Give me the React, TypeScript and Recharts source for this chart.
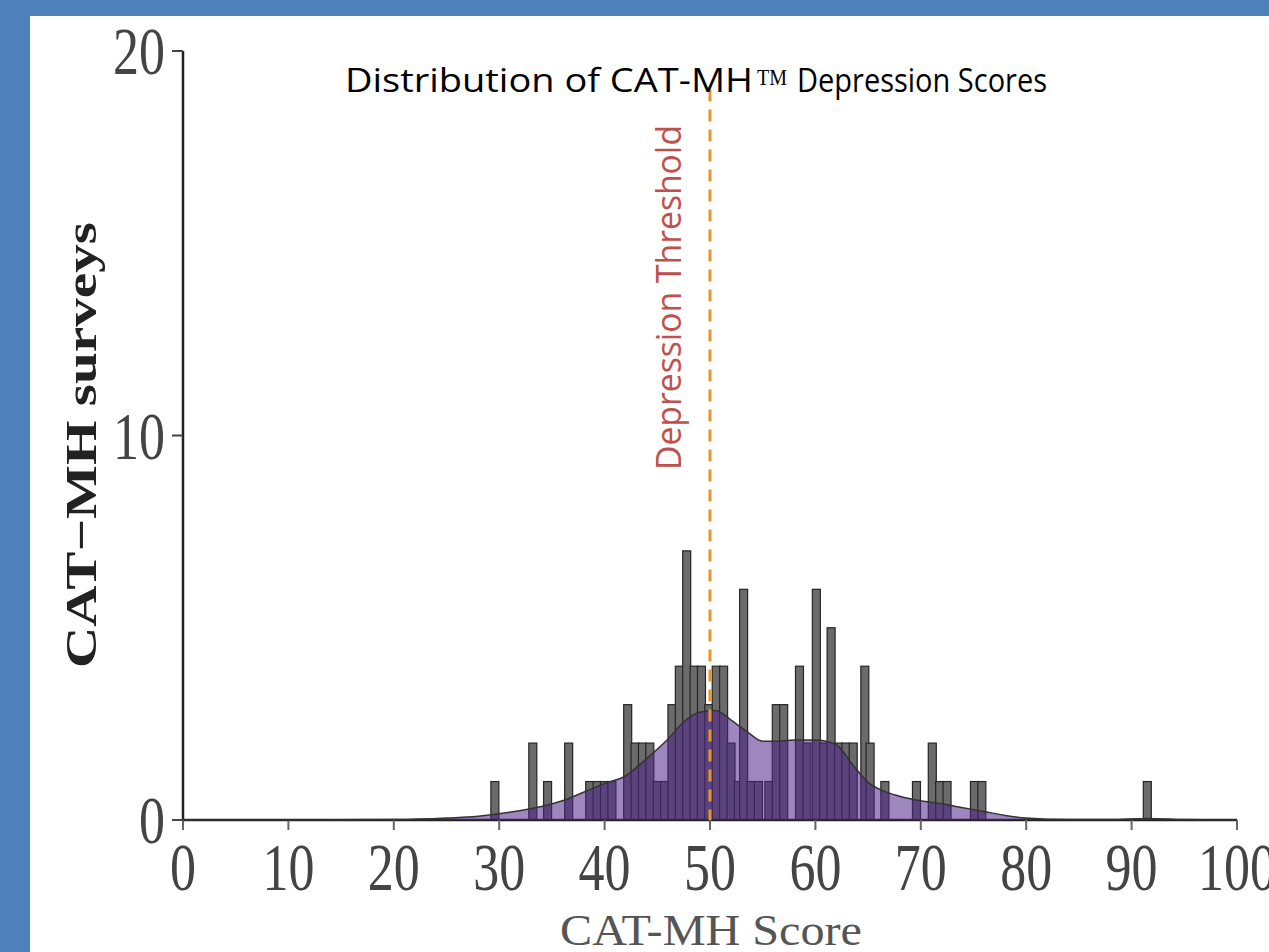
import { ComposedChart, Bar, Area, XAxis, YAxis, ReferenceLine } from 'recharts'

// histogram bins (score centre) and survey counts
const binScores = [29.6, 33.2, 34.6, 36.6, 38.6, 39.3, 40.0, 40.7, 42.2, 42.9, 43.6, 44.3, 45.0, 45.7, 46.4, 47.1, 47.8, 48.5, 49.2, 49.9, 50.6, 51.3, 52.0, 52.7, 53.2, 53.9, 54.6, 55.6, 56.3, 57.0, 58.5, 59.2, 60.1, 60.8, 61.5, 62.2, 62.9, 63.6, 64.7, 65.2, 66.6, 69.6, 71.1, 71.8, 72.5, 75.1, 75.8, 91.5]
const binCounts = [1, 2, 1, 2, 1, 1, 1, 1, 3, 2, 2, 2, 1, 1, 3, 4, 7, 4, 4, 3, 4, 4, 2, 1, 6, 1, 1, 1, 3, 3, 4, 2, 6, 2, 5, 2, 2, 2, 4, 2, 1, 1, 2, 1, 1, 1, 1, 1]

// density curve, scaled to counts
const densScores = [0, 20, 25, 28, 31, 34, 36, 38, 40, 42, 44, 46, 47.5, 49, 50.5, 52, 53.5, 55, 56.5, 58, 60, 62, 63.5, 65, 66.5, 68, 70, 72, 74, 76, 78, 80, 84, 88, 91.5, 95, 100]
const densValues = [0, 0.01, 0.05, 0.1, 0.2, 0.35, 0.5, 0.72, 0.95, 1.15, 1.6, 2.1, 2.55, 2.8, 2.85, 2.6, 2.3, 2.05, 2.05, 2.08, 2.08, 1.95, 1.45, 0.98, 0.75, 0.62, 0.5, 0.42, 0.32, 0.22, 0.12, 0.05, 0.01, 0.01, 0.04, 0.01, 0]

const xTicks = [0, 10, 20, 30, 40, 50, 60, 70, 80, 90, 100]
const yTicks = [0, 10, 20]
const threshold = 50

const bars = binScores.map((x, i) => ({ x, count: binCounts[i] }))
const density = densScores.map((x, i) => ({ x, d: densValues[i] }))

const serif = '"Liberation Serif", "DejaVu Serif", serif'
const sans = '"Open Sans", "Noto Sans", sans-serif'

const W = 1269
const H = 952

const XTick = (props: any) => {
  const { x, y, payload } = props
  return (
    <g transform={`translate(${x},${y + 58}) scale(1,1.3)`}>
      <text textAnchor="middle" fontFamily={serif} fontSize={52} fill="#444">
        {payload.value}
      </text>
    </g>
  )
}

const YTick = (props: any) => {
  const { x, y, payload } = props
  return (
    <g transform={`translate(${x},${y + 23}) scale(1,1.3)`}>
      <text textAnchor="end" fontFamily={serif} fontSize={52} fill="#444">
        {payload.value}
      </text>
    </g>
  )
}

// bars are centred on the bin and drawn 8px wide
const BinBar = (props: any) => {
  const { x, y, width, height } = props
  if (!height) return null
  const cx = x + width / 2
  return <rect x={cx - 4} y={y} width={8} height={height} fill="#6b6b6b" stroke="#262626" strokeWidth={1.2} />
}

export default function App() {
  return (
    <div style={{ position: 'fixed', left: 0, top: 0, width: W, height: H, background: '#4f81bd', overflow: 'hidden' }}>
      <div style={{ position: 'absolute', left: 30, top: 16, right: 0, bottom: 0, background: '#fff' }} />
      {/* histogram + axes */}
      <div style={{ position: 'absolute', left: 0, top: 0 }}>
        <ComposedChart width={W} height={H} data={bars} margin={{ top: 51, right: 32, bottom: 72, left: 103 }}>
          <XAxis
            type="number"
            dataKey="x"
            domain={[0, 100]}
            ticks={xTicks}
            interval={0}
            height={60}
            tickSize={10}
            tickMargin={2}
            axisLine={{ stroke: '#222', strokeWidth: 2.5 }}
            tickLine={{ stroke: '#666', strokeWidth: 2 }}
            tick={XTick}
          />
          <YAxis
            type="number"
            domain={[0, 20]}
            ticks={yTicks}
            width={80}
            tickSize={11}
            tickMargin={7}
            axisLine={{ stroke: '#222', strokeWidth: 2.5 }}
            tickLine={{ stroke: '#444', strokeWidth: 2 }}
            tick={YTick}
          />
          <Bar dataKey="count" shape={BinBar} isAnimationActive={false} />
        </ComposedChart>
      </div>
      {/* density overlay on top of the bars */}
      <div style={{ position: 'absolute', left: 0, top: 0 }}>
        <ComposedChart width={W} height={H} data={density} margin={{ top: 51, right: 32, bottom: 132, left: 183 }}>
          <XAxis type="number" dataKey="x" domain={[0, 100]} hide />
          <YAxis type="number" domain={[0, 20]} hide />
          <Area
            dataKey="d"
            type="monotone"
            fill="#4f2488"
            fillOpacity={0.55}
            stroke="#333"
            strokeWidth={1.5}
            isAnimationActive={false}
          />
          <ReferenceLine
            segment={[{ x: threshold, y: 19 }, { x: threshold, y: 0 }]}
            stroke="#e8952c"
            strokeWidth={3}
            strokeDasharray="12 8"
            ifOverflow="visible"
          />
        </ComposedChart>
      </div>
      <svg width={W} height={H} style={{ position: 'absolute', left: 0, top: 0, pointerEvents: 'none' }}>
        <text x={345} y={92} fontFamily={sans} fontSize={33} fill="#000" textLength={408} lengthAdjust="spacingAndGlyphs">
          Distribution of CAT-MH
        </text>
        <text x={757} y={85} fontFamily={serif} fontSize={24} fill="#000" textLength={30} lengthAdjust="spacingAndGlyphs">
          TM
        </text>
        <text x={797} y={92} fontFamily={sans} fontSize={33} fill="#000" textLength={250} lengthAdjust="spacingAndGlyphs">
          Depression Scores
        </text>
        <text
          transform="translate(681,470) rotate(-90)"
          fontFamily={sans}
          fontSize={34}
          fill="#c0504d"
          textLength={345}
          lengthAdjust="spacingAndGlyphs"
        >
          Depression Threshold
        </text>
        <text
          transform="translate(96,445) scale(1,1.3) rotate(-90)"
          textAnchor="middle"
          fontFamily={serif}
          fontWeight="bold"
          fontSize={44}
          fill="#222"
        >
          CAT−MH surveys
        </text>
        <text x={560} y={945} fontFamily={serif} fontSize={44} fill="#555" textLength={302} lengthAdjust="spacingAndGlyphs">
          CAT-MH Score
        </text>
      </svg>
    </div>
  )
}
